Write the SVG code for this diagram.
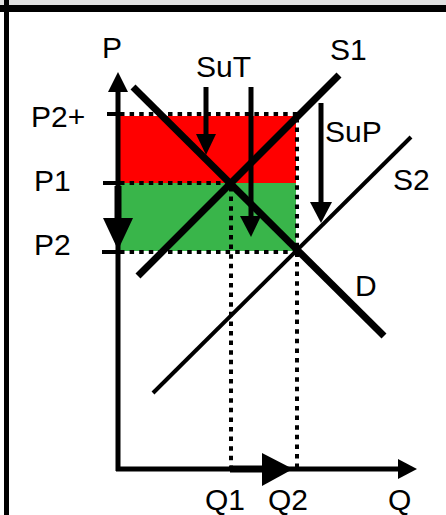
<svg xmlns="http://www.w3.org/2000/svg" width="446" height="515" viewBox="0 0 446 515">
<style>
text{font-family:"Liberation Sans",Arial,sans-serif;font-size:30px;fill:#000}
.dot{stroke:#000;stroke-width:4;stroke-dasharray:4.5 5.1;fill:none}
.thick{stroke:#000;stroke-width:7;fill:none}
.ax{stroke:#000;stroke-width:5;fill:none}
.arr{stroke:#000;stroke-width:5;fill:none}
</style>
<rect x="0" y="0" width="446" height="515" fill="#fff"/>
<rect x="0" y="0" width="446" height="6" fill="#e0e0e0"/>
<rect x="0" y="5" width="446" height="7" fill="#000"/>
<rect x="4" y="0" width="5" height="515" fill="#000"/>

<g id="areas">
<rect x="120" y="116" width="176" height="67" fill="#ff0000"/>
<rect x="120" y="183" width="176" height="68" fill="#39b54a"/>
</g>

<g id="guides">
<line class="dot" x1="120" y1="114" x2="299" y2="114"/>
<line class="dot" x1="120" y1="183" x2="233" y2="183"/>
<line class="dot" x1="120" y1="252" x2="299" y2="252"/>
<line class="dot" x1="231" y1="187" x2="231" y2="467"/>
<line class="dot" x1="297" y1="118" x2="297" y2="467"/>
</g>

<g id="axes">
<line class="ax" x1="118" y1="88" x2="118" y2="471"/>
<polygon points="118,72 108,92 128,92"/>
<line class="ax" x1="116" y1="469" x2="400" y2="469"/>
<polygon points="417,469 398,459 398,479"/>
<line x1="107" y1="114" x2="118" y2="114" stroke="#000" stroke-width="4"/>
<line x1="103" y1="183" x2="118" y2="183" stroke="#000" stroke-width="4"/>
<line x1="102" y1="252" x2="118" y2="252" stroke="#000" stroke-width="4"/>
</g>

<g id="curves">
<line id="D" class="thick" x1="133" y1="87" x2="384" y2="336"/>
<line id="S1" class="thick" x1="339" y1="75" x2="138" y2="276"/>
<line id="S2" x1="411" y1="137" x2="153" y2="393" stroke="#000" stroke-width="4"/>
</g>

<g id="connectors">
<line class="thick" x1="118" y1="186" x2="118" y2="222"/>
<polygon points="118,250 103,218 133,218"/>
<line class="thick" x1="230" y1="469" x2="265" y2="469"/>
<polygon points="293,469 262,453 262,486"/>
<line class="arr" x1="206" y1="87" x2="206" y2="137"/>
<polygon points="206,155 196,134 216,134"/>
<line class="arr" x1="251" y1="87" x2="251" y2="219"/>
<polygon points="251,237 240,216 261,216"/>
<line class="arr" x1="321" y1="103" x2="321" y2="205"/>
<polygon points="321,223 310,202 332,202"/>
</g>

<g id="labels">
<text x="102" y="58">P</text>
<text x="196" y="77">SuT</text>
<text x="330" y="60">S1</text>
<text x="325" y="142">SuP</text>
<text x="393" y="190">S2</text>
<text x="355" y="296">D</text>
<text x="31" y="127">P2+</text>
<text x="34" y="191">P1</text>
<text x="34" y="255">P2</text>
<text x="205" y="510">Q1</text>
<text x="268" y="510">Q2</text>
<text x="388" y="510">Q</text>
</g>
</svg>
